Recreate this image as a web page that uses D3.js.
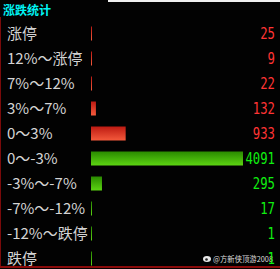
<!DOCTYPE html>
<html lang="zh">
<head>
<meta charset="UTF-8" />
<title>涨跌统计</title>
<script src="https://cdn.jsdelivr.net/npm/d3@7"></script>
<style>
  html, body { margin: 0; padding: 0; background: #000; }
  svg { display: block; }
</style>
</head>
<body>
<div id="chart"></div>
<script>
// data
const categories = ['涨停', '12%～涨停', '7%～12%', '3%～7%', '0～3%', '0～-3%', '-3%～-7%', '-7%～-12%', '-12%～跌停', '跌停'];
const counts = [25, 9, 22, 132, 933, 4091, 295, 17, 1, 1];
const isUp = [true, true, true, true, true, false, false, false, false, false];

const width = 280, height = 269;
const svg = d3.select('#chart').append('svg')
  .attr('width', width).attr('height', height);

svg.append('rect').attr('width', width).attr('height', height).attr('fill', '#020202');

// gradients for bars
const defs = svg.append('defs');
const grads = [['up', '#bd1a12', '#f45a3c'], ['down', '#2a8a00', '#5cd412']];
grads.forEach(([id, c0, c1]) => {
  const g = defs.append('linearGradient').attr('id', 'g-' + id)
    .attr('x1', 0).attr('y1', 0).attr('x2', 0).attr('y2', 1);
  g.append('stop').attr('offset', '0%').attr('stop-color', c0);
  g.append('stop').attr('offset', '100%').attr('stop-color', c1);
});

// frame
svg.append('rect').attr('x', 108).attr('y', 0).attr('width', width - 108).attr('height', 2).attr('fill', '#f0f0f0');
svg.append('rect').attr('x', 0).attr('y', 17).attr('width', 1).attr('height', 250).attr('fill', '#7a0a0a');
svg.append('rect').attr('x', 0).attr('y', 266).attr('width', width).attr('height', 2).attr('fill', '#8a0a0a');

// title
svg.append('text').attr('x', 3).attr('y', 15)
  .attr('font-family', '"Noto Sans CJK SC"').attr('font-size', 12).attr('font-weight', 'bold')
  .attr('fill', '#00f4f4').text('涨跌统计');

const y = d3.scaleBand().domain(categories).range([21, 271]).paddingInner(0.44).paddingOuter(0.22);
const x = d3.scaleLinear().domain([0, d3.max(counts)]).range([91, 243]);

const rows = categories.map((c, i) => ({ c, v: counts[i], up: isUp[i] }));

// labels
svg.append('g').selectAll('text').data(rows).join('text')
  .attr('x', 7).attr('y', d => y(d.c) + y.bandwidth() / 2)
  .attr('dy', '0.36em')
  .attr('font-family', '"Noto Sans CJK SC"').attr('font-size', 15)
  .attr('fill', '#d4d4d4')
  .text(d => d.c);

// bars
svg.append('g').selectAll('rect').data(rows).join('rect')
  .attr('x', x(0)).attr('y', d => y(d.c))
  .attr('width', d => Math.max(1, x(d.v) - x(0)))
  .attr('height', y.bandwidth())
  .attr('fill', d => d.up ? 'url(#g-up)' : 'url(#g-down)');

// watermark (drawn under the values, as in the original)
const wm = svg.append('g').attr('transform', 'translate(203,259)');
wm.append('ellipse').attr('cx', 4).attr('cy', 0).attr('rx', 4).attr('ry', 3).attr('fill', '#e8e8e8');
wm.append('circle').attr('cx', 3.5).attr('cy', 0.5).attr('r', 1.3).attr('fill', '#222');
wm.append('text').attr('x', 10).attr('y', 3)
  .attr('font-family', '"Noto Sans CJK SC"').attr('font-size', 8)
  .attr('textLength', 60).attr('lengthAdjust', 'spacingAndGlyphs')
  .attr('fill', '#dcdcdc').text('@方新侠顶游2008');

// values
svg.append('g').selectAll('text').data(rows).join('text')
  .attr('transform', d => `translate(275,${y(d.c) + y.bandwidth() / 2}) scale(0.82,1)`)
  .attr('dy', '0.36em').attr('text-anchor', 'end')
  .attr('font-family', '"DejaVu Sans Mono"').attr('font-size', 15)
  .attr('fill', d => d.up ? '#ff3434' : '#10ee10')
  .text(d => d.v);
</script>
</body>
</html>
